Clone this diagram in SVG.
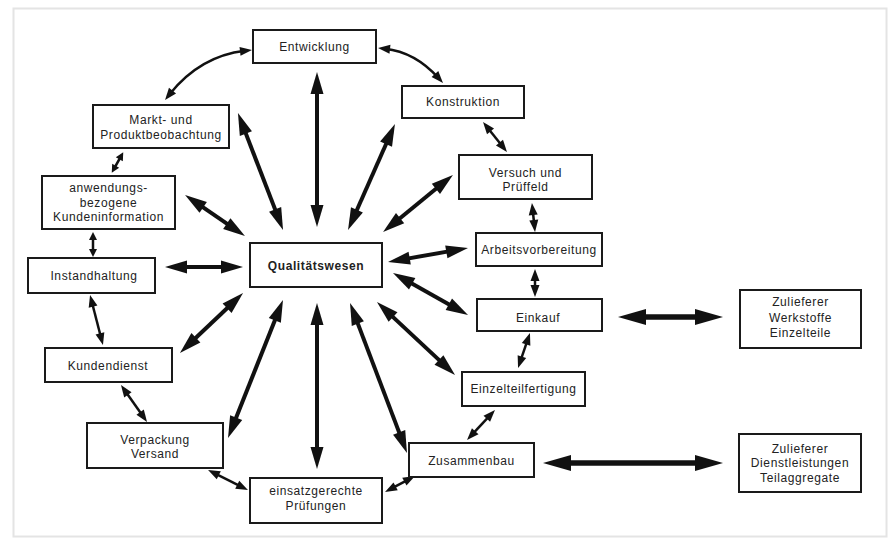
<svg xmlns="http://www.w3.org/2000/svg" width="890" height="539" viewBox="0 0 890 539">
<style>
.box{fill:#fff;stroke:#1a1a1a;stroke-width:2}
.t{font-family:"Liberation Sans",Arial,sans-serif;font-size:12px;letter-spacing:0.6px;fill:#222;text-anchor:middle}
.b{font-weight:bold}
.spoke{stroke:#111;stroke-width:4;fill:none;marker-start:url(#hs);marker-end:url(#hs)}
.thick{stroke:#111;stroke-width:5.5;fill:none;marker-start:url(#hl);marker-end:url(#hl)}
.ring{stroke:#111;stroke-width:2.5;fill:none;marker-start:url(#hr);marker-end:url(#hr)}
.short{stroke:#111;stroke-width:2.5;fill:none;marker-start:url(#hq);marker-end:url(#hq)}
</style>
<defs>
<marker id="hs" markerUnits="userSpaceOnUse" markerWidth="24" markerHeight="14" refX="8" refY="6.5" orient="auto-start-reverse" overflow="visible"><path d="M0,0 L22,6.5 L0,13 z" fill="#111"/></marker>
<marker id="hl" markerUnits="userSpaceOnUse" markerWidth="30" markerHeight="18" refX="10" refY="8" orient="auto-start-reverse" overflow="visible"><path d="M0,0 L28,8 L0,16 z" fill="#111"/></marker>
<marker id="hr" markerUnits="userSpaceOnUse" markerWidth="14" markerHeight="10" refX="5" refY="4.5" orient="auto-start-reverse" overflow="visible"><path d="M0,0 L12,4.5 L0,9 z" fill="#111"/></marker>
<marker id="hq" markerUnits="userSpaceOnUse" markerWidth="10" markerHeight="9" refX="3" refY="4" orient="auto-start-reverse" overflow="visible"><path d="M0,0 L8,4 L0,8 z" fill="#111"/></marker>
</defs>
<rect x="0" y="0" width="890" height="539" fill="#fff"/>
<rect x="13.5" y="8.5" width="873" height="528" fill="none" stroke="#e4e4e4" stroke-width="2"/>

<g id="connectors">
<line class="spoke" x1="317" y1="86" x2="317" y2="213"/>
<line class="spoke" x1="243" y1="126.1" x2="278" y2="216.9"/>
<line class="spoke" x1="389.3" y1="136.8" x2="353.7" y2="217.2"/>
<line class="spoke" x1="442.1" y1="183.8" x2="393.9" y2="223.2"/>
<line class="spoke" x1="196.6" y1="202.9" x2="233.4" y2="228.1"/>
<line class="spoke" x1="179" y1="267" x2="229" y2="267"/>
<line class="spoke" x1="190.1" y1="343.3" x2="232.9" y2="302.7"/>
<line class="spoke" x1="233.2" y1="425" x2="277.8" y2="313"/>
<line class="spoke" x1="317" y1="455" x2="317" y2="317"/>
<line class="spoke" x1="402" y1="439.9" x2="355" y2="316.1"/>
<line class="spoke" x1="444.8" y1="365.4" x2="387.2" y2="311.6"/>
<line class="spoke" x1="455.8" y1="308.2" x2="405.2" y2="279.8"/>
<line class="spoke" x1="454.2" y1="250.4" x2="401.8" y2="259.6"/>
<line class="thick" x1="636" y1="317" x2="705" y2="317"/>
<line class="thick" x1="561" y1="463" x2="705" y2="463"/>
<path class="ring" d="M245,50.8 Q200,56 169.4,94.5"/>
<path class="ring" d="M385,48.7 Q415,52 438.3,77.8"/>
<line class="ring" x1="487.4" y1="127.5" x2="502.6" y2="146.5"/>
<line class="ring" x1="532.7" y1="210" x2="534.3" y2="225"/>
<line class="ring" x1="535" y1="276" x2="535" y2="290"/>
<line class="ring" x1="527.7" y1="339.6" x2="520.3" y2="361.4"/>
<line class="ring" x1="490.2" y1="415.1" x2="471.8" y2="434.9"/>
<line class="ring" x1="408.8" y1="479.3" x2="391.2" y2="488.7"/>
<line class="ring" x1="241.7" y1="486.9" x2="214.3" y2="473.1"/>
<line class="ring" x1="143" y1="416.3" x2="125" y2="390.7"/>
<line class="ring" x1="101.2" y1="338.2" x2="91.8" y2="301.8"/>
<line class="short" x1="93" y1="252" x2="93" y2="237"/>
<line class="short" x1="114.2" y1="168.4" x2="120.8" y2="156.6"/>
</g>

<g id="entwicklung"><rect class="box" x="253" y="30" width="123" height="33"/><text class="t" x="314.5" y="51">Entwicklung</text></g>
<g id="markt"><rect class="box" x="93" y="105" width="136" height="43"/><text class="t" x="161" y="124">Markt- und</text><text class="t" x="161" y="139">Produktbeobachtung</text></g>
<g id="konstruktion"><rect class="box" x="402" y="86" width="122" height="32"/><text class="t" x="463" y="106">Konstruktion</text></g>
<g id="versuch"><rect class="box" x="459" y="155" width="133" height="44"/><text class="t" x="525.5" y="177">Versuch und</text><text class="t" x="525.5" y="191">Prüffeld</text></g>
<g id="anwendung"><rect class="box" x="42" y="176" width="133" height="53"/><text class="t" x="108.5" y="192">anwendungs-</text><text class="t" x="108.5" y="207">bezogene</text><text class="t" x="108.5" y="221">Kundeninformation</text></g>
<g id="qualitaet"><rect class="box" x="250" y="243" width="132" height="44"/><text class="t b" x="316" y="270">Qualitätswesen</text></g>
<g id="arbeitsvorbereitung"><rect class="box" x="476" y="233" width="126" height="33"/><text class="t" x="539" y="254" letter-spacing="0.3">Arbeitsvorbereitung</text></g>
<g id="instandhaltung"><rect class="box" x="28" y="258" width="127" height="35"/><text class="t" x="94" y="280">Instandhaltung</text></g>
<g id="einkauf"><rect class="box" x="477" y="299" width="125" height="32"/><text class="t" x="538" y="322">Einkauf</text></g>
<g id="zulieferer1"><rect class="box" x="740" y="290" width="121" height="58"/><text class="t" x="800.5" y="306">Zulieferer</text><text class="t" x="800.5" y="322">Werkstoffe</text><text class="t" x="800.5" y="337">Einzelteile</text></g>
<g id="kundendienst"><rect class="box" x="45" y="348" width="127" height="34"/><text class="t" x="108" y="370">Kundendienst</text></g>
<g id="einzelteilfertigung"><rect class="box" x="462" y="372" width="123" height="34"/><text class="t" x="523.5" y="393">Einzelteilfertigung</text></g>
<g id="verpackung"><rect class="box" x="87" y="423" width="136" height="45"/><text class="t" x="155" y="444">Verpackung</text><text class="t" x="155" y="458">Versand</text></g>
<g id="zusammenbau"><rect class="box" x="409" y="443" width="125" height="34"/><text class="t" x="471.5" y="465">Zusammenbau</text></g>
<g id="zulieferer2"><rect class="box" x="739" y="434" width="122" height="58"/><text class="t" x="800" y="453">Zulieferer</text><text class="t" x="800" y="467">Dienstleistungen</text><text class="t" x="800" y="482">Teilaggregate</text></g>
<g id="pruefungen"><rect class="box" x="250" y="478" width="132" height="45"/><text class="t" x="316" y="495">einsatzgerechte</text><text class="t" x="316" y="510">Prüfungen</text></g>
</svg>
